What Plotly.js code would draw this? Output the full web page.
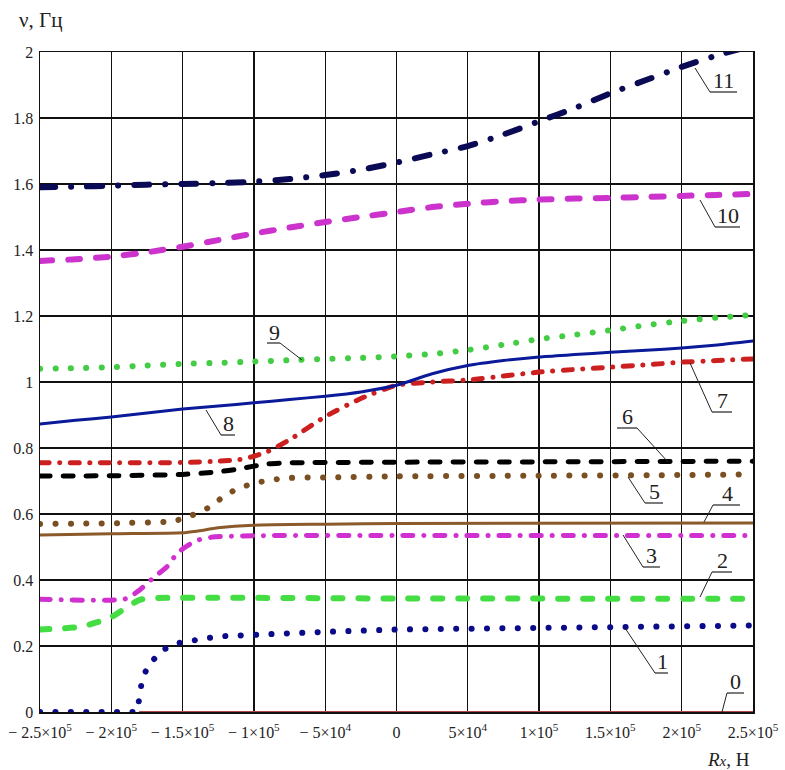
<!DOCTYPE html>
<html>
<head>
<meta charset="utf-8">
<script src="https://cdn.plot.ly/plotly-3.0.1.min.js"></script>
<style>
  html, body { margin: 0; padding: 0; background: #fff; }
  .js-line { stroke-linecap: round; stroke-linejoin: round; }
</style>
</head>
<body>
<div id="chart" style="width:785px;height:770px;"></div>
<script>
// ---- data ----
const xMain = [-250000,-225000,-200000,-175000,-150000,-125000,-100000,-75000,-50000,-25000,0,25000,50000,75000,100000,125000,150000,175000,200000,225000,250000];

const y11 = [1.590,1.592,1.595,1.598,1.600,1.603,1.607,1.615,1.627,1.643,1.665,1.690,1.715,1.750,1.790,1.830,1.875,1.915,1.955,1.990,2.020];
const y10 = [1.367,1.372,1.380,1.393,1.410,1.430,1.450,1.468,1.485,1.500,1.515,1.530,1.540,1.548,1.553,1.556,1.558,1.561,1.564,1.567,1.570];
const y9  = [1.040,1.042,1.045,1.050,1.055,1.058,1.062,1.066,1.070,1.073,1.078,1.085,1.097,1.113,1.130,1.143,1.157,1.172,1.185,1.195,1.203];
const y8  = [0.873,0.884,0.894,0.906,0.918,0.927,0.937,0.947,0.957,0.970,0.990,1.025,1.050,1.065,1.076,1.083,1.090,1.096,1.103,1.112,1.124];

const x7 = [-250000,-200000,-150000,-125000,-110000,-100000,-90000,-75000,-50000,-25000,0,25000,50000,75000,100000,125000,150000,175000,200000,225000,250000];
const y7 = [0.755,0.755,0.756,0.760,0.765,0.775,0.790,0.825,0.895,0.950,0.990,1.000,1.006,1.018,1.030,1.038,1.045,1.052,1.060,1.065,1.070];

const x6 = [-250000,-200000,-150000,-125000,-110000,-100000,-90000,-75000,0,100000,250000];
const y6 = [0.715,0.716,0.720,0.728,0.737,0.745,0.752,0.755,0.757,0.758,0.760];

const x5 = [-250000,-200000,-160000,-153000,-143000,-131000,-120000,-110000,-99000,-88000,-77000,-50000,0,100000,200000,250000];
const y5 = [0.570,0.572,0.577,0.582,0.597,0.621,0.657,0.679,0.694,0.703,0.709,0.711,0.714,0.716,0.718,0.720];

const x4 = [-250000,-200000,-150000,-140000,-125000,-100000,-50000,0,250000];
const y4 = [0.536,0.540,0.543,0.548,0.558,0.566,0.569,0.571,0.573];

const x3 = [-250000,-190000,-180000,-171000,-161000,-154000,-148000,-140000,-129000,-100000,0,250000];
const y3 = [0.342,0.343,0.370,0.405,0.440,0.480,0.500,0.520,0.530,0.534,0.535,0.535];

const x2 = [-250000,-222000,-201000,-189000,-180000,-170000,0,250000];
const y2 = [0.250,0.258,0.285,0.318,0.340,0.345,0.344,0.343];

const x1 = [-250000,-182000,-180000,-178500,-174000,-164000,-153000,-143000,-131000,-120000,-110000,-100000,-50000,0,50000,100000,150000,200000,250000];
const y1 = [0.000,0.000,0.050,0.097,0.142,0.188,0.209,0.218,0.225,0.230,0.232,0.236,0.243,0.250,0.252,0.255,0.258,0.260,0.262];

const x0 = [-180000,250000];
const y0 = [0,0];

const xTickVals = [-250000,-200000,-150000,-100000,-50000,0,50000,100000,150000,200000,250000];
const xTickText = ["\u2212 2.5\u00d710<sup>5</sup>","\u2212 2\u00d710<sup>5</sup>","\u2212 1.5\u00d710<sup>5</sup>","\u2212 1\u00d710<sup>5</sup>","\u2212 5\u00d710<sup>4</sup>","0","5\u00d710<sup>4</sup>","1\u00d710<sup>5</sup>","1.5\u00d710<sup>5</sup>","2\u00d710<sup>5</sup>","2.5\u00d710<sup>5</sup>"];
const yTickVals = [0,0.2,0.4,0.6,0.8,1,1.2,1.4,1.6,1.8,2];

// ---- layout helpers ----
const SERIF = '"Liberation Serif", "Times New Roman", "DejaVu Serif", serif';
const W = 785, H = 770;
const L = 40, R = 753, T = 52, B = 712;
function px2x(px){ return (px - L) / (R - L) * 500000 - 250000; }
function py2y(py){ return (B - py) / (B - T) * 2; }

function tr(x, y, color, width, dash, shape){
  return { x: x, y: y, type: 'scatter', mode: 'lines', hoverinfo: 'skip',
    line: { color: color, width: width, dash: dash || 'solid', shape: shape || 'spline', smoothing: 0.6 } };
}

const traces = [
  tr(x0, y0, '#b04848', 2, 'solid', 'linear'),
  tr(x1, y1, '#0b0b8a', 6, '0.1px,15.3px', 'linear'),
  tr(x2, y2, '#44dd44', 6, '9px,16px'),
  tr(x3, y3, '#d030d0', 5, '10px,11px,0.1px,11px'),
  tr(x4, y4, '#8a5a2a', 3, 'solid'),
  tr(x5, y5, '#7a4f22', 6, '0.1px,15.3px'),
  tr(x6, y6, '#000000', 5, '10px,13px'),
  tr(x7, y7, '#cc2020', 5, '9px,10.5px,0.1px,10.5px'),
  tr(xMain, y8, '#0a1a99', 3, 'solid'),
  tr(xMain, y9, '#44cc44', 6, '0.1px,15.3px'),
  tr(xMain, y10, '#cc33cc', 6, '12px,16px'),
  tr(xMain, y11, '#0b0b55', 6, '15px,16px,0.1px,16px')
];

// curve labels: [text, leader from (px,py), elbow (px,py), underline end px, text center (px,py)]
const labels = [
  ['11', [695,68],  [710,92],  737, [723,80]],
  ['10', [700,200], [715,227], 740, [728,215]],
  ['9',  [302,360], [280,343], 267, [274,332]],
  ['8',  [206,410], [221,435], 235, [228,423]],
  ['7',  [690,363], [712,412], 732, [722,400]],
  ['6',  [668,462], [637,428], 617, [627,416]],
  ['5',  [628,477], [645,503], 663, [654,491]],
  ['4',  [704,522], [713,505], 740, [727,493]],
  ['3',  [623,535], [643,567], 660, [651,555]],
  ['2',  [700,597], [712,572], 732, [722,560]],
  ['1',  [625,628], [655,673], 668, [662,661]],
  ['0',  [722,712], [727,693], 744, [735,681]]
];

const shapes = [];
const annotations = [];
labels.forEach(function(l){
  shapes.push({ type:'line', xref:'x', yref:'y', x0:px2x(l[1][0]), y0:py2y(l[1][1]), x1:px2x(l[2][0]), y1:py2y(l[2][1]), line:{color:'#222', width:1} });
  shapes.push({ type:'line', xref:'x', yref:'y', x0:px2x(l[2][0]), y0:py2y(l[2][1]), x1:px2x(l[3]), y1:py2y(l[2][1]), line:{color:'#222', width:1.2} });
  annotations.push({ text:l[0], xref:'x', yref:'y', x:px2x(l[4][0]), y:py2y(l[4][1]), showarrow:false,
    xanchor:'center', yanchor:'middle', font:{family:SERIF, size:22, color:'#222'} });
});

annotations.push({ text:'\u03bd, \u0413\u0446', xref:'paper', yref:'paper', x:(17-L)/(R-L), y:(B-20)/(B-T),
  xanchor:'left', yanchor:'middle', showarrow:false, font:{family:SERIF, size:21, color:'#222'} });
annotations.push({ text:'<i>R</i><i style="font-size:15px">x</i>, \u041d', xref:'paper', yref:'paper', x:(752-L)/(R-L), y:(B-759)/(B-T),
  xanchor:'right', yanchor:'middle', showarrow:false, font:{family:SERIF, size:19, color:'#222'} });

const layout = {
  width: W, height: H,
  margin: { l: L, r: W - R, t: T, b: H - B, pad: 0 },
  paper_bgcolor: '#ffffff', plot_bgcolor: '#ffffff',
  showlegend: false,
  font: { family: SERIF, color: '#222' },
  xaxis: {
    range: [-250000, 250000], tickmode: 'array', tickvals: xTickVals, ticktext: xTickText,
    showgrid: true, gridcolor: '#111', gridwidth: 1.2, zeroline: false,
    showline: true, mirror: true, linecolor: '#111', linewidth: 1.5,
    ticks: '', ticklabelstandoff: 5,
    tickfont: { family: SERIF, size: 16, color: '#222' }, fixedrange: true
  },
  yaxis: {
    range: [0, 2], tickmode: 'array', tickvals: yTickVals,
    showgrid: true, gridcolor: '#111', gridwidth: 1.2, zeroline: false,
    showline: true, mirror: true, linecolor: '#111', linewidth: 1.5,
    ticks: '', ticklabelstandoff: 2,
    tickfont: { family: SERIF, size: 16, color: '#222' }, fixedrange: true
  },
  shapes: shapes,
  annotations: annotations
};

Plotly.newPlot('chart', traces, layout, { displayModeBar: false, staticPlot: true });
</script>
</body>
</html>
